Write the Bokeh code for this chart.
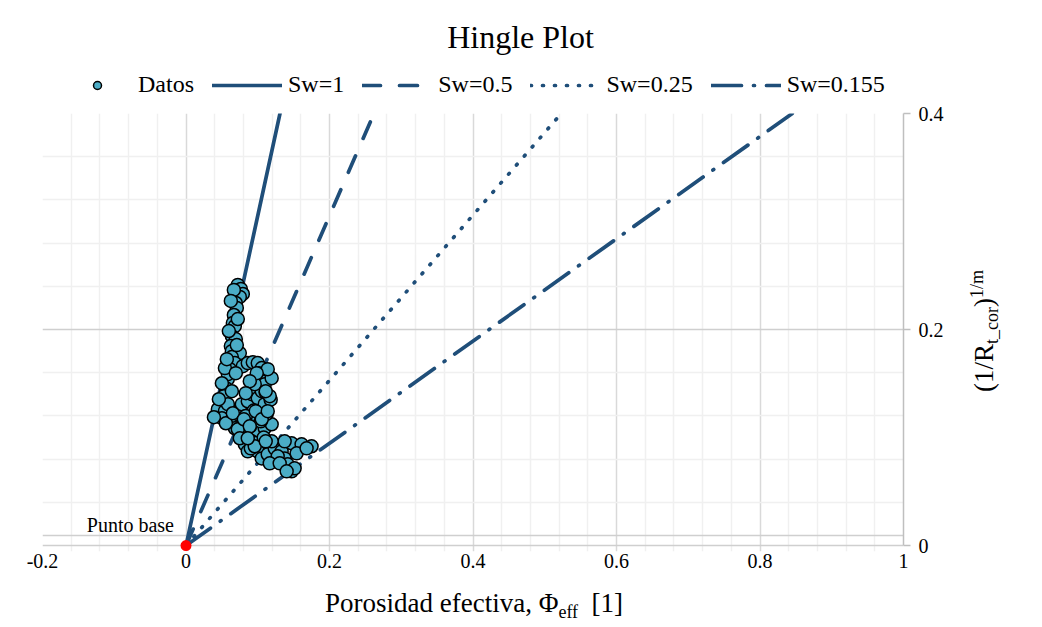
from bokeh.plotting import figure
from bokeh.models import Range1d, FixedTicker, Legend, LegendItem, Label, Div
from bokeh.layouts import column, row
from bokeh.core.properties import value
from bokeh.embed import file_html
from bokeh.resources import INLINE

# ---- data ----
phi_eff = [0.0722, 0.0764, 0.0792, 0.0750, 0.0694, 0.0708, 0.0667, 0.0653, 0.0681, 0.0639,
           0.0694, 0.0625, 0.0639, 0.0750, 0.0639, 0.0681, 0.0611, 0.0792, 0.0583, 0.0556,
           0.0528, 0.0583, 0.0486, 0.0444, 0.0472,
           0.0861, 0.0931, 0.1000, 0.1056, 0.1014, 0.1111, 0.1167, 0.1056, 0.1028, 0.0986,
           0.0958, 0.0931, 0.0889, 0.1028, 0.0999,
           0.0444, 0.0542, 0.0583, 0.0500, 0.0639, 0.0722, 0.0778, 0.0861, 0.0917, 0.1000,
           0.1056, 0.1097, 0.0958, 0.1194, 0.0778, 0.0861, 0.0958, 0.1056, 0.1097, 0.0681,
           0.0819, 0.0917, 0.1000, 0.1097, 0.1194, 0.0819, 0.0917, 0.0861, 0.1000, 0.1056,
           0.1139, 0.1236, 0.1333, 0.1375, 0.1417, 0.1472, 0.1514, 0.1472, 0.1611, 0.1750,
           0.1375, 0.1194, 0.0583, 0.0542,
           0.0889, 0.0944, 0.1042, 0.0833, 0.0972, 0.1083, 0.0903, 0.1125, 0.1180, 0.1110,
           0.0667, 0.0625, 0.0722, 0.0597, 0.0708, 0.0569, 0.0694, 0.0500, 0.0639, 0.0458,
           0.0389, 0.0556, 0.0653,
           0.0722, 0.0806, 0.0889, 0.0972, 0.1056, 0.1139, 0.1167, 0.1111, 0.1139, 0.0986,
           0.0889, 0.0833, 0.0750, 0.0958, 0.0861, 0.1111, 0.1278, 0.1167, 0.1306, 0.1403,
           0.1542, 0.1681]
rt_inv = [0.2413, 0.2376, 0.2329, 0.2302, 0.2246, 0.2200, 0.2135, 0.2060, 0.2032, 0.1940,
          0.1912, 0.1847, 0.1800, 0.1782, 0.1745, 0.1689, 0.1633, 0.1661, 0.1541, 0.1457,
          0.1383, 0.1299, 0.1271, 0.1234, 0.1197,
          0.1689, 0.1698, 0.1689, 0.1643, 0.1596, 0.1559, 0.1550, 0.1522, 0.1466, 0.1411,
          0.1355, 0.1290, 0.1244, 0.1383, 0.1318,
          0.1262, 0.1244, 0.1309, 0.1179, 0.1169, 0.1216, 0.1309, 0.1336, 0.1401, 0.1364,
          0.1429, 0.1494, 0.1494, 0.1550, 0.1123, 0.1151, 0.1179, 0.1244, 0.1309, 0.1086,
          0.1058, 0.1030, 0.1058, 0.1086, 0.1123, 0.0937, 0.0965, 0.0872, 0.0872, 0.0807,
          0.0845, 0.0900, 0.0872, 0.0807, 0.0752, 0.0687, 0.0715, 0.0947, 0.0937, 0.0919,
          0.0965, 0.0965, 0.1587, 0.1643,
          0.1100, 0.1250, 0.1150, 0.1200, 0.0950, 0.1000, 0.0900, 0.1220, 0.1350, 0.1420,
          0.2367, 0.2265, 0.2097, 0.1986, 0.1856, 0.1726, 0.1596, 0.1503, 0.1429, 0.1355,
          0.1188, 0.1132, 0.1225,
          0.1077, 0.1169, 0.1104, 0.1244, 0.1169, 0.1244, 0.1383, 0.1429, 0.1633, 0.1596,
          0.1522, 0.1411, 0.0993, 0.0919, 0.0993, 0.0965, 0.0826, 0.0761, 0.0761, 0.0687,
          0.0854, 0.0900]

sw_labels = ["Sw=1", "Sw=0.5", "Sw=0.25", "Sw=0.155"]
line_x = [[0.0, 0.131], [0.0, 0.262], [0.0, 0.523], [0.0, 0.845]]
line_y = [[0.0, 0.4], [0.0, 0.4], [0.0, 0.4], [0.0, 0.4]]

base_x = [0.0]
base_y = [0.0]
base_label = ["Punto base"]

title_text = "Hingle Plot"
x_title_html = "Porosidad efectiva, \u03a6<span style='font-size:18px;vertical-align:-6px'>eff</span>&nbsp; [1]"
y_title_html = ("(1/R<span style='font-size:18px;vertical-align:-5px'>t_cor</span>)"
                "<span style='font-size:18px;vertical-align:10px'>1/m</span>")

x_ticks = [-0.2, 0.0, 0.2, 0.4, 0.6, 0.8, 1.0]
x_tick_labels = ["-0.2", "0", "0.2", "0.4", "0.6", "0.8", "1"]
y_ticks = [0.0, 0.2, 0.4]
y_tick_labels = ["0", "0.2", "0.4"]
x_minor = [-0.16, -0.12, -0.08, -0.04, 0.04, 0.08, 0.12, 0.16, 0.24, 0.28, 0.32, 0.36,
           0.44, 0.48, 0.52, 0.56, 0.64, 0.68, 0.72, 0.76, 0.84, 0.88, 0.92, 0.96]
y_minor = [0.04, 0.08, 0.12, 0.16, 0.24, 0.28, 0.32, 0.36]
y_grid_major = [0.0, 0.0093, 0.2, 0.4]

FONT = "Liberation Serif"
LINE_COLOR = "#1F4E79"
POINT_FILL = "#4BACC6"
dashes = ["solid", "18 19", "1 11", "30 12 1 12"]


def add_series(fig):
    lines = []
    for xs, ys, d in zip(line_x, line_y, dashes):
        lines.append(fig.line(xs, ys, line_color=LINE_COLOR, line_width=3.7,
                              line_dash=d, line_cap="round"))
    pts = fig.scatter(phi_eff, rt_inv, size=13, fill_color=POINT_FILL,
                      line_color="black", line_width=1.5)
    return pts, lines


# ---------- main plot ----------
pm = figure(width=960, height=485, x_range=Range1d(-0.2, 1.0), y_range=Range1d(-0.0055, 0.4),
            output_backend="svg", toolbar_location=None, y_axis_location="right",
            min_border_left=42, min_border_right=57, min_border_top=13, min_border_bottom=34)
pm.outline_line_color = None
pm.background_fill_color = "white"
pm.border_fill_color = "white"

pm.xgrid.ticker = FixedTicker(ticks=x_ticks, minor_ticks=x_minor)
pm.ygrid.ticker = FixedTicker(ticks=y_grid_major, minor_ticks=y_minor)
for g in (pm.xgrid, pm.ygrid):
    g.grid_line_color = "#d9d9d9"
    g.grid_line_width = 1.5
    g.minor_grid_line_color = "#f0f0f0"
    g.minor_grid_line_width = 1.5
pm.ygrid.grid_line_color = "#cfcfcf"

pm.xaxis.ticker = FixedTicker(ticks=x_ticks)
pm.xaxis.major_label_overrides = dict(zip(x_ticks, x_tick_labels))
pm.xaxis.major_tick_out = 0
pm.xaxis.major_tick_in = 0
pm.xaxis.major_tick_line_color = None
pm.xaxis.minor_tick_line_color = None
pm.xaxis.axis_line_color = None
pm.xaxis.major_label_standoff = 2

pm.yaxis.ticker = FixedTicker(ticks=y_ticks)
pm.yaxis.bounds = (0.0, 0.4)
pm.yaxis.major_label_overrides = dict(zip(y_ticks, y_tick_labels))
pm.yaxis.major_tick_out = 7
pm.yaxis.major_tick_in = 0
pm.yaxis.major_tick_line_color = "#bfbfbf"
pm.yaxis.major_tick_line_width = 1.5
pm.yaxis.minor_tick_line_color = None
pm.yaxis.axis_line_color = "#bfbfbf"
pm.yaxis.axis_line_width = 1.5
pm.yaxis.major_label_standoff = 8

for ax in (pm.xaxis, pm.yaxis):
    ax.major_label_text_font = FONT
    ax.major_label_text_font_size = "20px"
    ax.major_label_text_color = "black"

add_series(pm)

pm.scatter(base_x, base_y, size=11, fill_color="#FF0000", line_color=None)
pm.text(base_x, base_y, text=base_label, text_font=value(FONT), text_font_size="20px",
        text_align="right", text_baseline="alphabetic", x_offset=-12, y_offset=-21,
        text_color="black")

# ---------- header (title + legend) ----------
pt = figure(width=1042, height=100, x_range=Range1d(10, 11), y_range=Range1d(10, 11),
            output_backend="svg", toolbar_location=None,
            x_axis_location=None, y_axis_location=None,
            min_border_left=0, min_border_right=0, min_border_top=0, min_border_bottom=0)
pt.outline_line_color = None
pt.grid.visible = False
pt.background_fill_color = "white"
pt.border_fill_color = "white"

lg_pts, lg_lines = add_series(pt)
items = [LegendItem(label="Datos", renderers=[lg_pts])]
for lab, r in zip(sw_labels, lg_lines):
    items.append(LegendItem(label=lab, renderers=[r]))
legend = Legend(items=items, orientation="horizontal", location=(62, 2),
                glyph_width=70, glyph_height=20, label_standoff=6, spacing=18,
                padding=4, margin=0, label_text_font=FONT, label_text_font_size="24px",
                label_text_color="black",
                border_line_color=None, background_fill_alpha=0)
pt.add_layout(legend, "center")
pt.add_layout(Label(x=520, y=64, x_units="screen", y_units="screen", text=title_text,
                    text_font=FONT, text_font_size="32px", text_color="black",
                    text_align="center", text_baseline="alphabetic"))

# ---------- axis titles (HTML text, with sub/superscripts) ----------
ydiv = Div(width=82, height=485, margin=0, text=(
    "<div style='position:relative;width:82px;height:485px;'>"
    "<div style=\"position:absolute;left:25px;top:231px;transform:translate(-50%,-50%) rotate(-90deg);"
    "white-space:nowrap;font-family:'Liberation Serif';font-size:27px;line-height:27px;color:black;\">"
    + y_title_html + "</div></div>"))
xdiv = Div(width=1042, height=42, margin=0, text=(
    "<div style='position:relative;width:1042px;height:42px;'>"
    "<div style=\"position:absolute;left:325px;top:5px;white-space:nowrap;"
    "font-family:'Liberation Serif';font-size:27px;line-height:27px;color:black;\">"
    + x_title_html + "</div></div>"))

layout = column(pt, row(pm, ydiv), xdiv)
open("out.html", "w").write(file_html(layout, INLINE))
